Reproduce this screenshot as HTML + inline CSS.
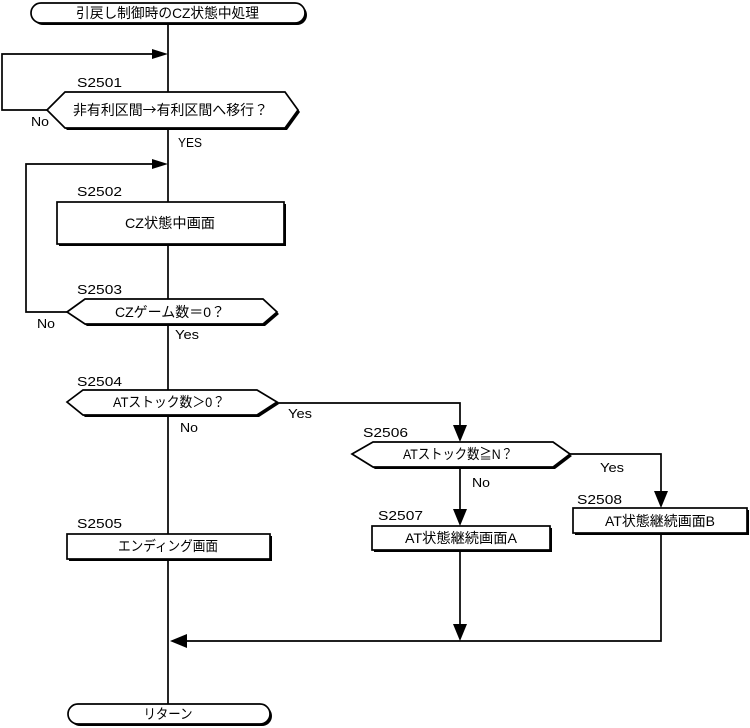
<!DOCTYPE html>
<html><head><meta charset="utf-8"><style>
html,body{margin:0;padding:0;background:#fff;}
svg{display:block;}
text{font-family:"Liberation Sans","Noto Sans CJK JP",sans-serif;fill:#000;}
.j{font-size:14px;}
.l{font-size:13px;}
.c{font-family:"Noto Sans CJK JP",sans-serif;}
</style></head><body>
<svg width="750" height="728" viewBox="0 0 750 728" xmlns="http://www.w3.org/2000/svg">
<g stroke="#000" stroke-width="1.7" fill="none">
<line x1="168" y1="23" x2="168" y2="92"/>
<line x1="168" y1="128" x2="168" y2="202"/>
<line x1="168" y1="244" x2="168" y2="299"/>
<line x1="168" y1="324" x2="168" y2="390"/>
<line x1="168" y1="415" x2="168" y2="534"/>
<line x1="168" y1="559" x2="168" y2="704"/>
<polyline points="47,110 2,110 2,54 154,54"/>
<polyline points="67,312 26,312 26,164 154,164"/>
<polyline points="277,403 460,403 460,426"/>
<line x1="460" y1="467" x2="460" y2="511"/>
<polyline points="570,454 661,454 661,493"/>
<line x1="460" y1="552" x2="460" y2="626"/>
<polyline points="661,535 661,641 185,641"/>
</g>
<g fill="#000">
<polygon points="168,54 152,49 152,59"/>
<polygon points="168,164 152,159 152,169"/>
<polygon points="460,442 453,425 467,425"/>
<polygon points="460,526 453,509 467,509"/>
<polygon points="661,508 654,491 668,491"/>
<polygon points="460,641 453,624 467,624"/>
<polygon points="170,641 187,634 187,648"/>
</g>

<rect x="33" y="5" width="274" height="20" rx="10" fill="#000"/>
<rect x="31" y="3" width="274" height="20" rx="10" fill="#fff" stroke="#000" stroke-width="1.7"/>
<text class="j" x="167.5" y="18" text-anchor="middle" textLength="183" lengthAdjust="spacingAndGlyphs">引戻し制御時のCZ状態中処理</text>

<text class="l" x="77" y="87" textLength="45" lengthAdjust="spacingAndGlyphs">S2501</text>
<polygon points="49,112 67,94 287,94 300,112 287,130 67,130" fill="#000"/>
<polygon points="47,110 65,92 285,92 298,110 285,128 65,128" fill="#fff" stroke="#000" stroke-width="1.7"/>
<text class="j c" x="170.5" y="115" text-anchor="middle" textLength="195" lengthAdjust="spacingAndGlyphs">非有利区間→有利区間へ移行？</text>
<text class="l" x="31" y="126" textLength="18" lengthAdjust="spacingAndGlyphs">No</text>
<text class="l" x="178" y="147" textLength="24" lengthAdjust="spacingAndGlyphs">YES</text>

<text class="l" x="77" y="196" textLength="45" lengthAdjust="spacingAndGlyphs">S2502</text>
<rect x="59" y="204" width="227" height="42" fill="#000"/>
<rect x="57" y="202" width="227" height="42" fill="#fff" stroke="#000" stroke-width="1.7"/>
<text class="j" x="170" y="228" text-anchor="middle" textLength="90" lengthAdjust="spacingAndGlyphs">CZ状態中画面</text>

<text class="l" x="77" y="294" textLength="45" lengthAdjust="spacingAndGlyphs">S2503</text>
<polygon points="69,314 87,301 265,301 279,314 265,326 87,326" fill="#000"/>
<polygon points="67,312 85,299 263,299 277,312 263,324 85,324" fill="#fff" stroke="#000" stroke-width="1.7"/>
<text class="j" x="170" y="317" text-anchor="middle" textLength="110" lengthAdjust="spacingAndGlyphs">CZゲーム数<tspan class="c">＝</tspan>0<tspan class="c">？</tspan></text>
<text class="l" x="37" y="328" textLength="18" lengthAdjust="spacingAndGlyphs">No</text>
<text class="l" x="175" y="339" textLength="24" lengthAdjust="spacingAndGlyphs">Yes</text>

<text class="l" x="77" y="386" textLength="45" lengthAdjust="spacingAndGlyphs">S2504</text>
<polygon points="69,404 85,392 259,392 279,404 259,417 85,417" fill="#000"/>
<polygon points="67,402 83,390 257,390 277,402 257,415 83,415" fill="#fff" stroke="#000" stroke-width="1.7"/>
<text class="j" x="169" y="407" text-anchor="middle" textLength="112" lengthAdjust="spacingAndGlyphs">ATストック数<tspan class="c">＞</tspan>0<tspan class="c">？</tspan></text>
<text class="l" x="288" y="418" textLength="24" lengthAdjust="spacingAndGlyphs">Yes</text>
<text class="l" x="180" y="432" textLength="18" lengthAdjust="spacingAndGlyphs">No</text>

<text class="l" x="77" y="528" textLength="45" lengthAdjust="spacingAndGlyphs">S2505</text>
<rect x="69" y="536" width="203" height="25" fill="#000"/>
<rect x="67" y="534" width="203" height="25" fill="#fff" stroke="#000" stroke-width="1.7"/>
<text class="j" x="168" y="551" text-anchor="middle" textLength="100" lengthAdjust="spacingAndGlyphs">エンディング画面</text>

<text class="l" x="363" y="437" textLength="45" lengthAdjust="spacingAndGlyphs">S2506</text>
<polygon points="354,456 375,444 555,444 572,456 555,469 375,469" fill="#000"/>
<polygon points="352,454 373,442 553,442 570,454 553,467 373,467" fill="#fff" stroke="#000" stroke-width="1.7"/>
<text class="j" x="458" y="459" text-anchor="middle" textLength="110" lengthAdjust="spacingAndGlyphs">ATストック数<tspan class="c">≧</tspan>N<tspan class="c">？</tspan></text>
<text class="l" x="600" y="472" textLength="24" lengthAdjust="spacingAndGlyphs">Yes</text>
<text class="l" x="472" y="487" textLength="18" lengthAdjust="spacingAndGlyphs">No</text>

<text class="l" x="378" y="520" textLength="45" lengthAdjust="spacingAndGlyphs">S2507</text>
<rect x="374" y="528" width="178" height="24" fill="#000"/>
<rect x="372" y="526" width="178" height="24" fill="#fff" stroke="#000" stroke-width="1.7"/>
<text class="j" x="461" y="543" text-anchor="middle" textLength="112" lengthAdjust="spacingAndGlyphs">AT状態継続画面A</text>

<text class="l" x="577" y="504" textLength="45" lengthAdjust="spacingAndGlyphs">S2508</text>
<rect x="575" y="510" width="174" height="25" fill="#000"/>
<rect x="573" y="508" width="174" height="25" fill="#fff" stroke="#000" stroke-width="1.7"/>
<text class="j" x="660" y="526" text-anchor="middle" textLength="110" lengthAdjust="spacingAndGlyphs">AT状態継続画面B</text>

<rect x="70" y="706" width="202" height="20" rx="10" fill="#000"/>
<rect x="68" y="704" width="202" height="20" rx="10" fill="#fff" stroke="#000" stroke-width="1.7"/>
<text class="j" x="168" y="719" text-anchor="middle" textLength="49" lengthAdjust="spacingAndGlyphs">リターン</text>
</svg>
</body></html>
